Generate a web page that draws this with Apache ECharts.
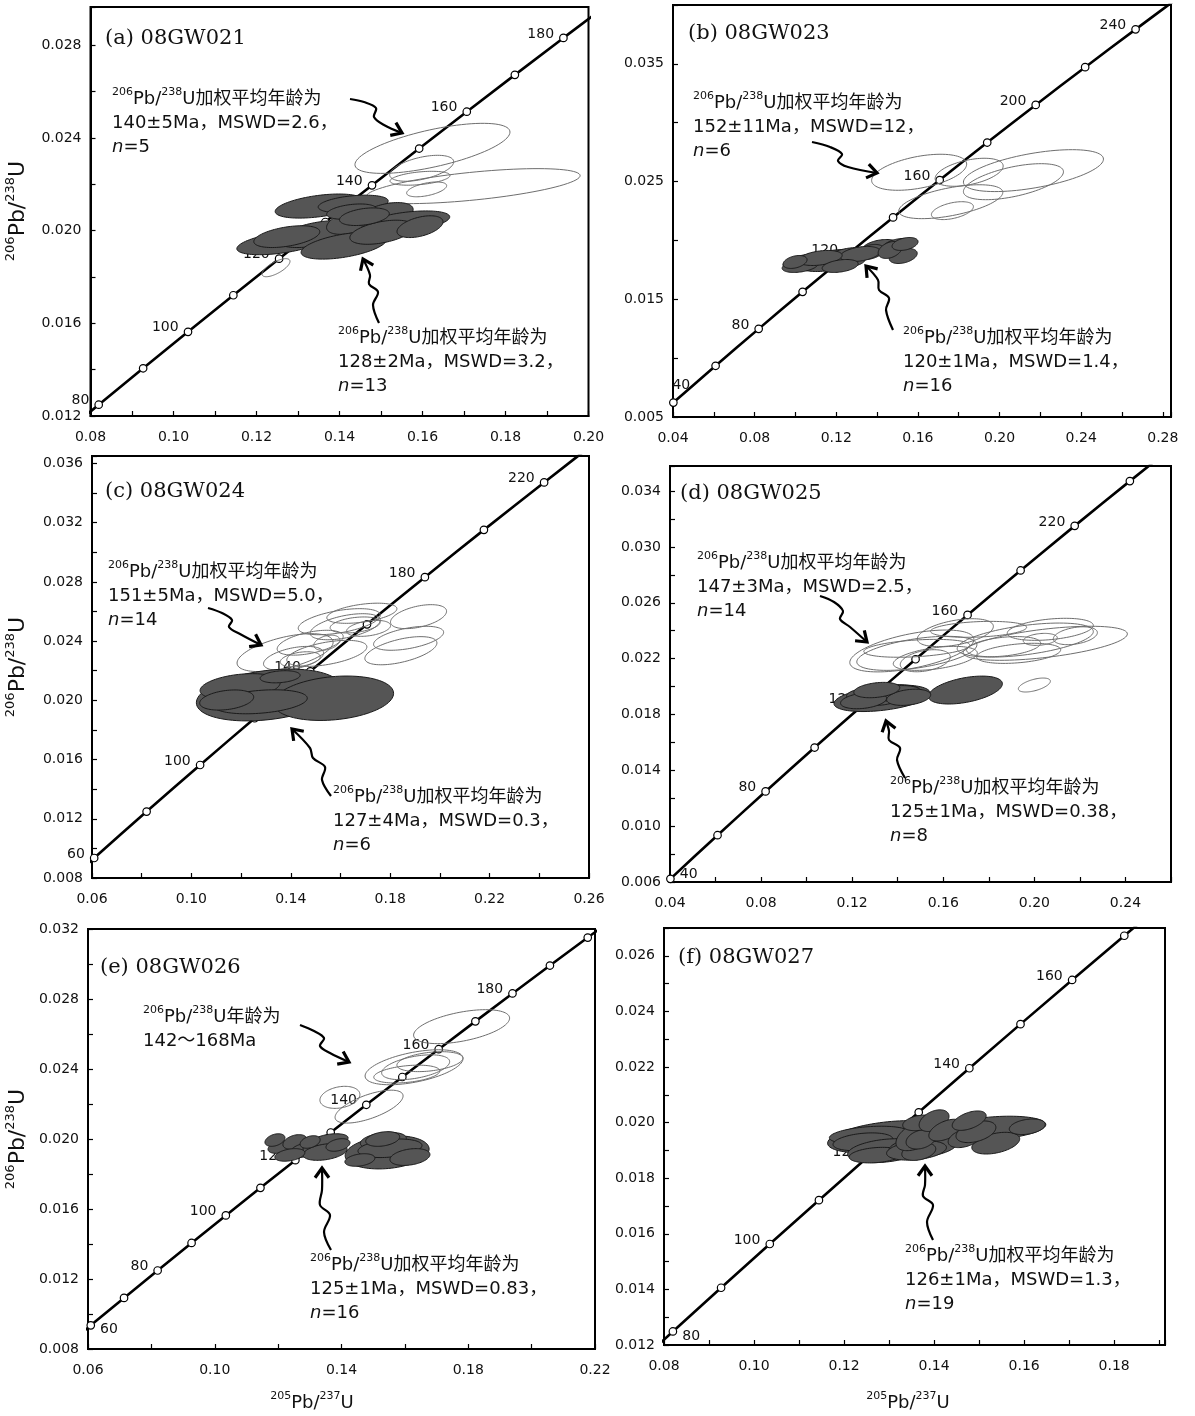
<!DOCTYPE html>
<html><head><meta charset="utf-8">
<script src="https://cdn.jsdelivr.net/npm/echarts@6/dist/echarts.min.js"></script>
<style>html,body{margin:0;padding:0;background:#fff}#c{width:1195px;height:1416px}</style>
</head><body><div id="c"></div><script>
// ---- Concordia reference points (age in Ma, 207Pb/235U, 206Pb/238U) ----
const conAge = [30,40,50,60,70,80,90,100,110,120,130,140,150,160,170,180,190,200,210,220,230,240,250,260];
const conX = [0.029987,0.040180,0.050475,0.060872,0.071371,0.081975,0.092683,0.103498,0.114419,0.125447,0.136588,0.147833,0.159197,0.170667,0.182256,0.193954,0.205774,0.217708,0.229759,0.241934,0.254222,0.266643,0.279171,0.291832];
const conY = [0.004665,0.006224,0.007786,0.009351,0.010918,0.012487,0.014059,0.015633,0.017210,0.018789,0.020371,0.021955,0.023542,0.025131,0.026722,0.028316,0.029912,0.031511,0.033113,0.034717,0.036323,0.037932,0.039543,0.041157];

// ---- concordia ticks per panel ----
const circleAgesA = [80,90,100,110,120,130,140,150,160,170,180];
const labelAgesA = [80,100,120,140,160,180];
const labelTextsA = ['80','100','120','140','160','180'];
const circleAgesB = [40,60,80,100,120,140,160,180,200,220,240];
const labelAgesB = [40,80,120,160,200,240];
const labelTextsB = ['40','80','120','160','200','240'];
const circleAgesC = [60,80,100,120,140,160,180,200,220];
const labelAgesC = [60,100,140,180,220];
const labelTextsC = ['60','100','140','180','220'];
const circleAgesD = [40,60,80,100,120,140,160,180,200,220];
const labelAgesD = [40,80,120,160,200];
const labelTextsD = ['40','80','120','160','220'];
const circleAgesE = [60,70,80,90,100,110,120,130,140,150,160,170,180,190,200];
const labelAgesE = [60,80,100,120,140,160,180];
const labelTextsE = ['60','80','100','120','140','160','180'];
const circleAgesF = [80,90,100,110,120,130,140,150,160,170];
const labelAgesF = [80,100,120,140,160];
const labelTextsF = ['80','100','120','140','160'];

// ---- error ellipses: [207Pb/235U, 206Pb/238U, halfExtentX, halfExtentY, rho] ----
const ellOpenA = [
 [0.1624,0.02355,0.01868,0.00108,0.65],[0.1722,0.02192,0.02578,0.000755,0.6],
 [0.1598,0.02269,0.00771,0.00056,0.5],[0.1610,0.02178,0.00482,0.00032,0.5],
 [0.1594,0.02226,0.00723,0.0003,0.4],[0.1247,0.0184,0.00337,0.00039,0.7]];
const ellFillA = [
 [0.1351,0.02106,0.0106,0.00052,0.45],[0.1433,0.02115,0.00843,0.00038,0.35],
 [0.1261,0.01948,0.01084,0.00052,0.5],[0.1343,0.01985,0.00916,0.00058,0.5],
 [0.1429,0.02038,0.00602,0.00054,0.45],[0.1510,0.02067,0.00675,0.00054,0.45],
 [0.1562,0.02038,0.01036,0.00047,0.45],[0.1411,0.01935,0.01036,0.00058,0.5],
 [0.1502,0.01993,0.00771,0.00052,0.45],[0.1594,0.02017,0.00554,0.00047,0.45],
 [0.1429,0.02082,0.006,0.00033,0.35],[0.1273,0.01974,0.00795,0.00047,0.45],
 [0.1460,0.0206,0.006,0.00038,0.35]];
const ellOpenB = [
 [0.1606,0.02579,0.02328,0.00153,0.45],[0.1851,0.02579,0.01667,0.00119,0.45],
 [0.2166,0.02593,0.03431,0.00178,0.55],[0.2068,0.02499,0.02451,0.00153,0.55],
 [0.1761,0.02329,0.02549,0.00144,0.55],[0.1769,0.02253,0.01029,0.00076,0.45]];
const ellFillB = [
 [0.1072,0.01817,0.01324,0.00072,0.35],[0.1194,0.01851,0.01373,0.00072,0.35],
 [0.1145,0.0180,0.01225,0.00064,0.35],[0.1268,0.01876,0.01078,0.00064,0.35],
 [0.1023,0.01783,0.00882,0.00055,0.35],[0.1243,0.01817,0.0098,0.00055,0.35],
 [0.1415,0.01944,0.00882,0.00064,0.35],[0.1503,0.01953,0.00784,0.00064,0.35],
 [0.1528,0.01868,0.00686,0.00064,0.35],[0.1366,0.01902,0.00686,0.00064,0.35],
 [0.1317,0.01885,0.0098,0.00064,0.35],[0.1464,0.01919,0.00588,0.00072,0.35],
 [0.1121,0.01851,0.01078,0.00064,0.35],[0.1537,0.0197,0.00637,0.00055,0.35],
 [0.1219,0.01783,0.00882,0.00055,0.35],[0.0998,0.01817,0.00588,0.00055,0.35]];
const ellOpenC = [
 [0.1377,0.02322,0.01933,0.00128,0.55],[0.1595,0.02531,0.01651,0.00088,0.5],
 [0.1686,0.02588,0.0141,0.00068,0.45],[0.1914,0.02565,0.01128,0.00081,0.45],
 [0.1874,0.02419,0.0141,0.00081,0.5],[0.1843,0.02335,0.0145,0.00095,0.55],
 [0.1478,0.02389,0.01329,0.00084,0.5],[0.1619,0.02497,0.0141,0.00088,0.5],
 [0.1411,0.02283,0.01208,0.00081,0.45],[0.1545,0.02317,0.01611,0.00088,0.5],
 [0.1659,0.02509,0.01007,0.00054,0.35],[0.1545,0.02389,0.00524,0.00051,0.35],
 [0.1438,0.02277,0.00805,0.00051,0.35],[0.1713,0.02486,0.00886,0.00054,0.35]];
const ellFillC = [
 [0.1310,0.02036,0.029,0.00175,0.3],[0.1572,0.02014,0.02416,0.0015,0.22],
 [0.1196,0.02092,0.01611,0.00088,0.3],[0.1277,0.0199,0.01893,0.00081,0.3],
 [0.1357,0.02159,0.00805,0.00041,0.25],[0.1142,0.02002,0.01087,0.00068,0.3]];
const ellOpenD = [
 [0.1462,0.02255,0.02725,0.0015,0.55],[0.1484,0.02238,0.02637,0.00122,0.5],
 [0.1565,0.02202,0.01846,0.00086,0.45],[0.1521,0.02185,0.01099,0.00079,0.35],
 [0.1653,0.02386,0.0167,0.001,0.45],[0.1960,0.02333,0.02989,0.00122,0.5],
 [0.2048,0.0231,0.03604,0.00122,0.55],[0.2070,0.0241,0.0189,0.00079,0.35],
 [0.2026,0.02338,0.00747,0.00043,0.25],[0.1865,0.02286,0.01626,0.00072,0.35],
 [0.1931,0.02238,0.01846,0.00072,0.35],[0.2180,0.02364,0.00967,0.00064,0.35],
 [0.1755,0.0241,0.0211,0.00057,0.25],[0.1484,0.02274,0.0233,0.00064,0.35],
 [0.2000,0.02011,0.00703,0.0005,0.55]];
const ellFillD = [
 [0.1697,0.01975,0.01626,0.001,0.45],[0.1331,0.01916,0.0211,0.00095,0.4],
 [0.1338,0.01952,0.01626,0.00062,0.3],[0.1331,0.01923,0.00967,0.00058,0.3],
 [0.1389,0.01952,0.01099,0.00055,0.3],[0.1250,0.01899,0.01011,0.00058,0.3],
 [0.1448,0.01923,0.00967,0.00058,0.3],[0.1308,0.01975,0.01011,0.00055,0.3]];
const ellOpenE = [
 [0.1779,0.02642,0.01515,0.00097,0.5],[0.1629,0.0241,0.01546,0.001,0.5],
 [0.1634,0.0241,0.01073,0.00071,0.45],[0.1606,0.02371,0.01041,0.00051,0.35],
 [0.1395,0.02238,0.00631,0.00063,0.25],[0.1487,0.02185,0.01073,0.00094,0.65],
 [0.1679,0.02442,0.01041,0.00057,0.35]];
const ellFillE = [
 [0.1206,0.01954,0.00379,0.00036,0.35],[0.1253,0.01983,0.00379,0.00042,0.35],
 [0.1285,0.01937,0.00473,0.00042,0.35],[0.1326,0.0196,0.00473,0.00048,0.35],
 [0.1364,0.01994,0.00568,0.00036,0.35],[0.1348,0.01926,0.00694,0.00048,0.35],
 [0.1237,0.01909,0.00473,0.00036,0.35],[0.1190,0.01994,0.00316,0.00036,0.35],
 [0.1389,0.01966,0.00379,0.00036,0.35],[0.1301,0.01983,0.00316,0.00036,0.35],
 [0.1544,0.01924,0.01325,0.00095,0.2],[0.1532,0.0199,0.00726,0.00048,0.3],
 [0.1553,0.01947,0.0101,0.00053,0.3],[0.1530,0.0200,0.00536,0.00042,0.3],
 [0.1616,0.01897,0.00631,0.00048,0.3],[0.1458,0.0188,0.00473,0.00036,0.3]];
const ellOpenF = [];
const ellFillF = [
 [0.1292,0.01949,0.01285,0.00058,0.4],[0.1256,0.01955,0.00886,0.00032,0.3],
 [0.1242,0.01931,0.00665,0.00032,0.3],[0.1292,0.01899,0.00842,0.00043,0.3],
 [0.1271,0.01883,0.00598,0.00028,0.25],[0.1533,0.0198,0.01152,0.00043,0.3],
 [0.1537,0.01926,0.00532,0.00039,0.4],[0.1607,0.01985,0.00399,0.00028,0.3],
 [0.1375,0.01913,0.00753,0.00039,0.3],[0.1361,0.0190,0.00665,0.00035,0.3],
 [0.1366,0.01896,0.00377,0.00032,0.3],[0.1364,0.01955,0.00487,0.00056,0.5],
 [0.1371,0.0194,0.00332,0.00035,0.3],[0.1368,0.01999,0.00377,0.00028,0.3],
 [0.1400,0.02007,0.00332,0.00039,0.4],[0.1426,0.01973,0.00377,0.00039,0.5],
 [0.1469,0.01945,0.00377,0.00035,0.4],[0.1493,0.01967,0.00443,0.00039,0.4],
 [0.1478,0.02007,0.00377,0.00035,0.5]];

// ---- layout / style ----
const FONT = 'DejaVu Sans, Noto Sans CJK SC, sans-serif';
const panels = [
 {grid:{left:90.5,top:7,width:498,height:409}, x:[0.08,0.20,0.01,2,2], y:[0.012,0.02965,0.002,2,3],
  circles:circleAgesA, lAges:labelAgesA, lTexts:labelTextsA, lPos:{}, open:ellOpenA, fill:ellFillA},
 {grid:{left:673,top:5,width:498,height:412}, x:[0.04,0.284,0.02,2,2], y:[0.005,0.040,0.005,2,3],
  circles:circleAgesB, lAges:labelAgesB, lTexts:labelTextsB, lPos:{40:['top',[8,-1]]}, open:ellOpenB, fill:ellFillB},
 {grid:{left:92,top:456,width:497,height:422}, x:[0.06,0.26,0.02,2,2], y:[0.008,0.0365,0.002,2,3],
  circles:circleAgesC, lAges:labelAgesC, lTexts:labelTextsC, lPos:{}, open:ellOpenC, fill:ellFillC},
 {grid:{left:670,top:466,width:501,height:416}, x:[0.04,0.26,0.02,2,2], y:[0.006,0.0358,0.002,2,3],
  circles:circleAgesD, lAges:labelAgesD, lTexts:labelTextsD, lPos:{40:['right',[0,-5]]}, open:ellOpenD, fill:ellFillD},
 {grid:{left:88,top:929,width:507,height:420}, x:[0.06,0.22,0.02,2,2], y:[0.008,0.032,0.002,2,3],
  circles:circleAgesE, lAges:labelAgesE, lTexts:labelTextsE, lPos:{60:['right',[0,4]]}, open:ellOpenE, fill:ellFillE},
 {grid:{left:664,top:928,width:501,height:417}, x:[0.08,0.1913,0.01,2,2], y:[0.012,0.027,0.001,2,3],
  circles:circleAgesF, lAges:labelAgesF, lTexts:labelTextsF, lPos:{80:['right',[0,5]]}, open:ellOpenF, fill:ellFillF}
];

function mkAxis(isX, idx, a) {
  const [min, max, interval, step, dec] = a;
  return {
    type:'value', gridIndex:idx, min:min, max:max, interval:interval,
    splitLine:{show:false},
    axisLine:{show:true, onZero:false, lineStyle:{color:'#000', width:2}},
    axisTick:{show:true, inside:true, length:5, lineStyle:{color:'#000', width:1.2}},
    axisLabel:{margin: isX ? 14 : 9, color:'#111', fontFamily:FONT, fontSize:14,
      showMinLabel:true, showMaxLabel:true, hideOverlap:false,
      formatter: function (v) {
        const k = Math.round((v - min) / interval);
        if (Math.abs(v - (min + k * interval)) > interval * 1e-3) return '';
        if (k % step) return '';
        return v.toFixed(dec);
      }}
  };
}

function ellipseRender(fill, stroke, lw) {
  return function (params, api) {
    const x = api.value(0), y = api.value(1), ex = api.value(2), ey = api.value(3), r = api.value(4);
    const s = Math.sqrt(1 - r * r);
    const pts = [];
    for (let i = 0; i < 90; i++) {
      const t = i / 90 * Math.PI * 2;
      pts.push(api.coord([x + ex * Math.cos(t), y + ey * (r * Math.cos(t) + s * Math.sin(t))]));
    }
    return {type:'polygon', shape:{points:pts}, style:{fill:fill, stroke:stroke, lineWidth:lw}};
  };
}

function concordiaData(p) {
  return conAge.map(function (age, i) {
    const item = {value:[conX[i], conY[i]]};
    if (p.circles.indexOf(age) < 0) item.symbol = 'none';
    const li = p.lAges.indexOf(age);
    if (li >= 0) {
      const pos = p.lPos[age] || ['left', [0, -4]];
      item.label = {show:true, formatter:p.lTexts[li], position:pos[0], offset:pos[1], distance:5};
    }
    return item;
  });
}

const grids = [], xAxes = [], yAxes = [], series = [];
panels.forEach(function (p, i) {
  grids.push(Object.assign({show:true, borderColor:'#000', borderWidth:2, backgroundColor:'#fff', containLabel:false}, p.grid));
  xAxes.push(mkAxis(true, i, p.x));
  yAxes.push(mkAxis(false, i, p.y));
  series.push({type:'line', xAxisIndex:i, yAxisIndex:i, data:concordiaData(p), z:2, clip:true, silent:true,
    symbol:'circle', symbolSize:7.5, showAllSymbol:true,
    lineStyle:{color:'#000', width:2.6},
    itemStyle:{color:'#fff', borderColor:'#000', borderWidth:1.2},
    label:{fontFamily:FONT, fontSize:14, color:'#111'}});
  series.push({type:'custom', xAxisIndex:i, yAxisIndex:i, data:p.open, z:3, clip:true, silent:true,
    renderItem:ellipseRender('rgba(0,0,0,0)', '#6e6e6e', 1)});
  series.push({type:'custom', xAxisIndex:i, yAxisIndex:i, data:p.fill, z:4, clip:true, silent:true,
    renderItem:ellipseRender('#555555', '#1a1a1a', 1)});
});

// ---- annotations (pixel layout) ----
const R = {
  t:{fontFamily:FONT, fontSize:18, lineHeight:24, fill:'#111'},
  s:{fontFamily:FONT, fontSize:11, lineHeight:18, verticalAlign:'top', fill:'#111'},
  i:{fontFamily:'DejaVu Sans', fontSize:18, fontStyle:'italic', lineHeight:24, fill:'#111'}
};
const HEAD = '{s|206}{t|Pb/}{s|238}{t|U加权平均年龄为}';
const notes = [
 [112, 87, HEAD + '\n{t|140±5Ma，MSWD=2.6，}\n{i|n}{t|=5}'],
 [338, 326, HEAD + '\n{t|128±2Ma，MSWD=3.2，}\n{i|n}{t|=13}'],
 [693, 91, HEAD + '\n{t|152±11Ma，MSWD=12，}\n{i|n}{t|=6}'],
 [903, 326, HEAD + '\n{t|120±1Ma，MSWD=1.4，}\n{i|n}{t|=16}'],
 [108, 560, HEAD + '\n{t|151±5Ma，MSWD=5.0，}\n{i|n}{t|=14}'],
 [333, 785, HEAD + '\n{t|127±4Ma，MSWD=0.3，}\n{i|n}{t|=6}'],
 [697, 551, HEAD + '\n{t|147±3Ma，MSWD=2.5，}\n{i|n}{t|=14}'],
 [890, 776, HEAD + '\n{t|125±1Ma，MSWD=0.38，}\n{i|n}{t|=8}'],
 [143, 1005, '{s|206}{t|Pb/}{s|238}{t|U年龄为}\n{t|142～168Ma}'],
 [310, 1253, HEAD + '\n{t|125±1Ma，MSWD=0.83，}\n{i|n}{t|=16}'],
 [905, 1244, HEAD + '\n{t|126±1Ma，MSWD=1.3，}\n{i|n}{t|=19}']
];
const titles = [
 [105, 39, '(a) 08GW021'], [688, 34, '(b) 08GW023'], [105, 492, '(c) 08GW024'],
 [680, 494, '(d) 08GW025'], [100, 968, '(e) 08GW026'], [678, 958, '(f) 08GW027']
];
const arrows = [
 [[350,99],[364,102],[376,108],[374,117],[384,125],[402,133]],
 [[379,323],[373,305],[378,292],[369,284],[370,275],[363,259]],
 [[812,142],[830,147],[842,154],[838,161],[848,167],[877,173]],
 [[893,330],[886,310],[889,298],[879,290],[878,280],[866,266]],
 [[208,608],[222,613],[232,620],[229,627],[240,634],[261,645]],
 [[331,796],[322,780],[325,767],[313,758],[310,748],[292,729]],
 [[820,596],[834,602],[843,611],[840,619],[850,627],[867,642]],
 [[905,778],[897,760],[900,748],[889,740],[889,731],[886,721]],
 [[300,1025],[314,1031],[324,1038],[320,1046],[330,1053],[349,1062]],
 [[331,1250],[324,1232],[330,1215],[320,1205],[322,1190],[322,1168]],
 [[933,1240],[927,1222],[933,1205],[923,1196],[925,1185],[925,1166]]
];
const XNAME_RICH = {
  b:{fontFamily:FONT, fontSize:18, lineHeight:24, fill:'#111'},
  s:{fontFamily:FONT, fontSize:11, lineHeight:17, verticalAlign:'top', fill:'#111'}
};
const YNAME_RICH = {
  b:{fontFamily:FONT, fontSize:22, lineHeight:28, fill:'#111'},
  s:{fontFamily:FONT, fontSize:13, lineHeight:20, verticalAlign:'top', fill:'#111'}
};
const yNames = [[18, 211], [18, 667], [18, 1139]];
const xNames = [[312, 1403], [908, 1403]];

const graphic = [];
titles.forEach(function (t) {
  graphic.push({type:'text', x:t[0], y:t[1], z:100, silent:true,
    style:{text:t[2], font:'21px "DejaVu Serif"', fontFamily:'DejaVu Serif', fontSize:21, fill:'#111',
      align:'left', textAlign:'left', verticalAlign:'middle', textVerticalAlign:'middle'}});
});
notes.forEach(function (n) {
  graphic.push({type:'text', x:n[0], y:n[1], z:100, silent:true,
    style:{text:n[2], rich:R, fontFamily:FONT, fontSize:18, fill:'#111',
      align:'left', textAlign:'left', verticalAlign:'top', textVerticalAlign:'top'}});
});
arrows.forEach(function (pts) {
  graphic.push({type:'polyline', z:100, silent:true, shape:{points:pts, smooth:0.35},
    style:{stroke:'#000', lineWidth:2.2, fill:null}});
  const a = pts[pts.length - 2], b = pts[pts.length - 1];
  const dx = b[0] - a[0], dy = b[1] - a[1], L = Math.sqrt(dx * dx + dy * dy);
  const ux = dx / L, uy = dy / L, len = 12, ang = 0.62;
  const c = Math.cos(ang), s = Math.sin(ang);
  const p1 = [b[0] - len * (ux * c - uy * s), b[1] - len * (ux * s + uy * c)];
  const p2 = [b[0] - len * (ux * c + uy * s), b[1] - len * (-ux * s + uy * c)];
  graphic.push({type:'polyline', z:100, silent:true, shape:{points:[p1, b, p2]},
    style:{stroke:'#000', lineWidth:3.2, fill:null, lineJoin:'miter'}});
});
yNames.forEach(function (n) {
  graphic.push({type:'text', x:n[0], y:n[1], rotation:Math.PI / 2, z:100, silent:true,
    style:{text:'{s|206}{b|Pb/}{s|238}{b|U}', rich:YNAME_RICH, fontSize:22, fill:'#111',
      align:'center', textAlign:'center', verticalAlign:'middle', textVerticalAlign:'middle'}});
});
xNames.forEach(function (n) {
  graphic.push({type:'text', x:n[0], y:n[1], z:100, silent:true,
    style:{text:'{s|205}{b|Pb/}{s|237}{b|U}', rich:XNAME_RICH, fontSize:18, fill:'#111',
      align:'center', textAlign:'center', verticalAlign:'middle', textVerticalAlign:'middle'}});
});

const chart = echarts.init(document.getElementById('c'), null, {renderer:'canvas'});
chart.setOption({
  animation:false,
  backgroundColor:'#fff',
  grid:grids, xAxis:xAxes, yAxis:yAxes, series:series, graphic:graphic
});
</script></body></html>
